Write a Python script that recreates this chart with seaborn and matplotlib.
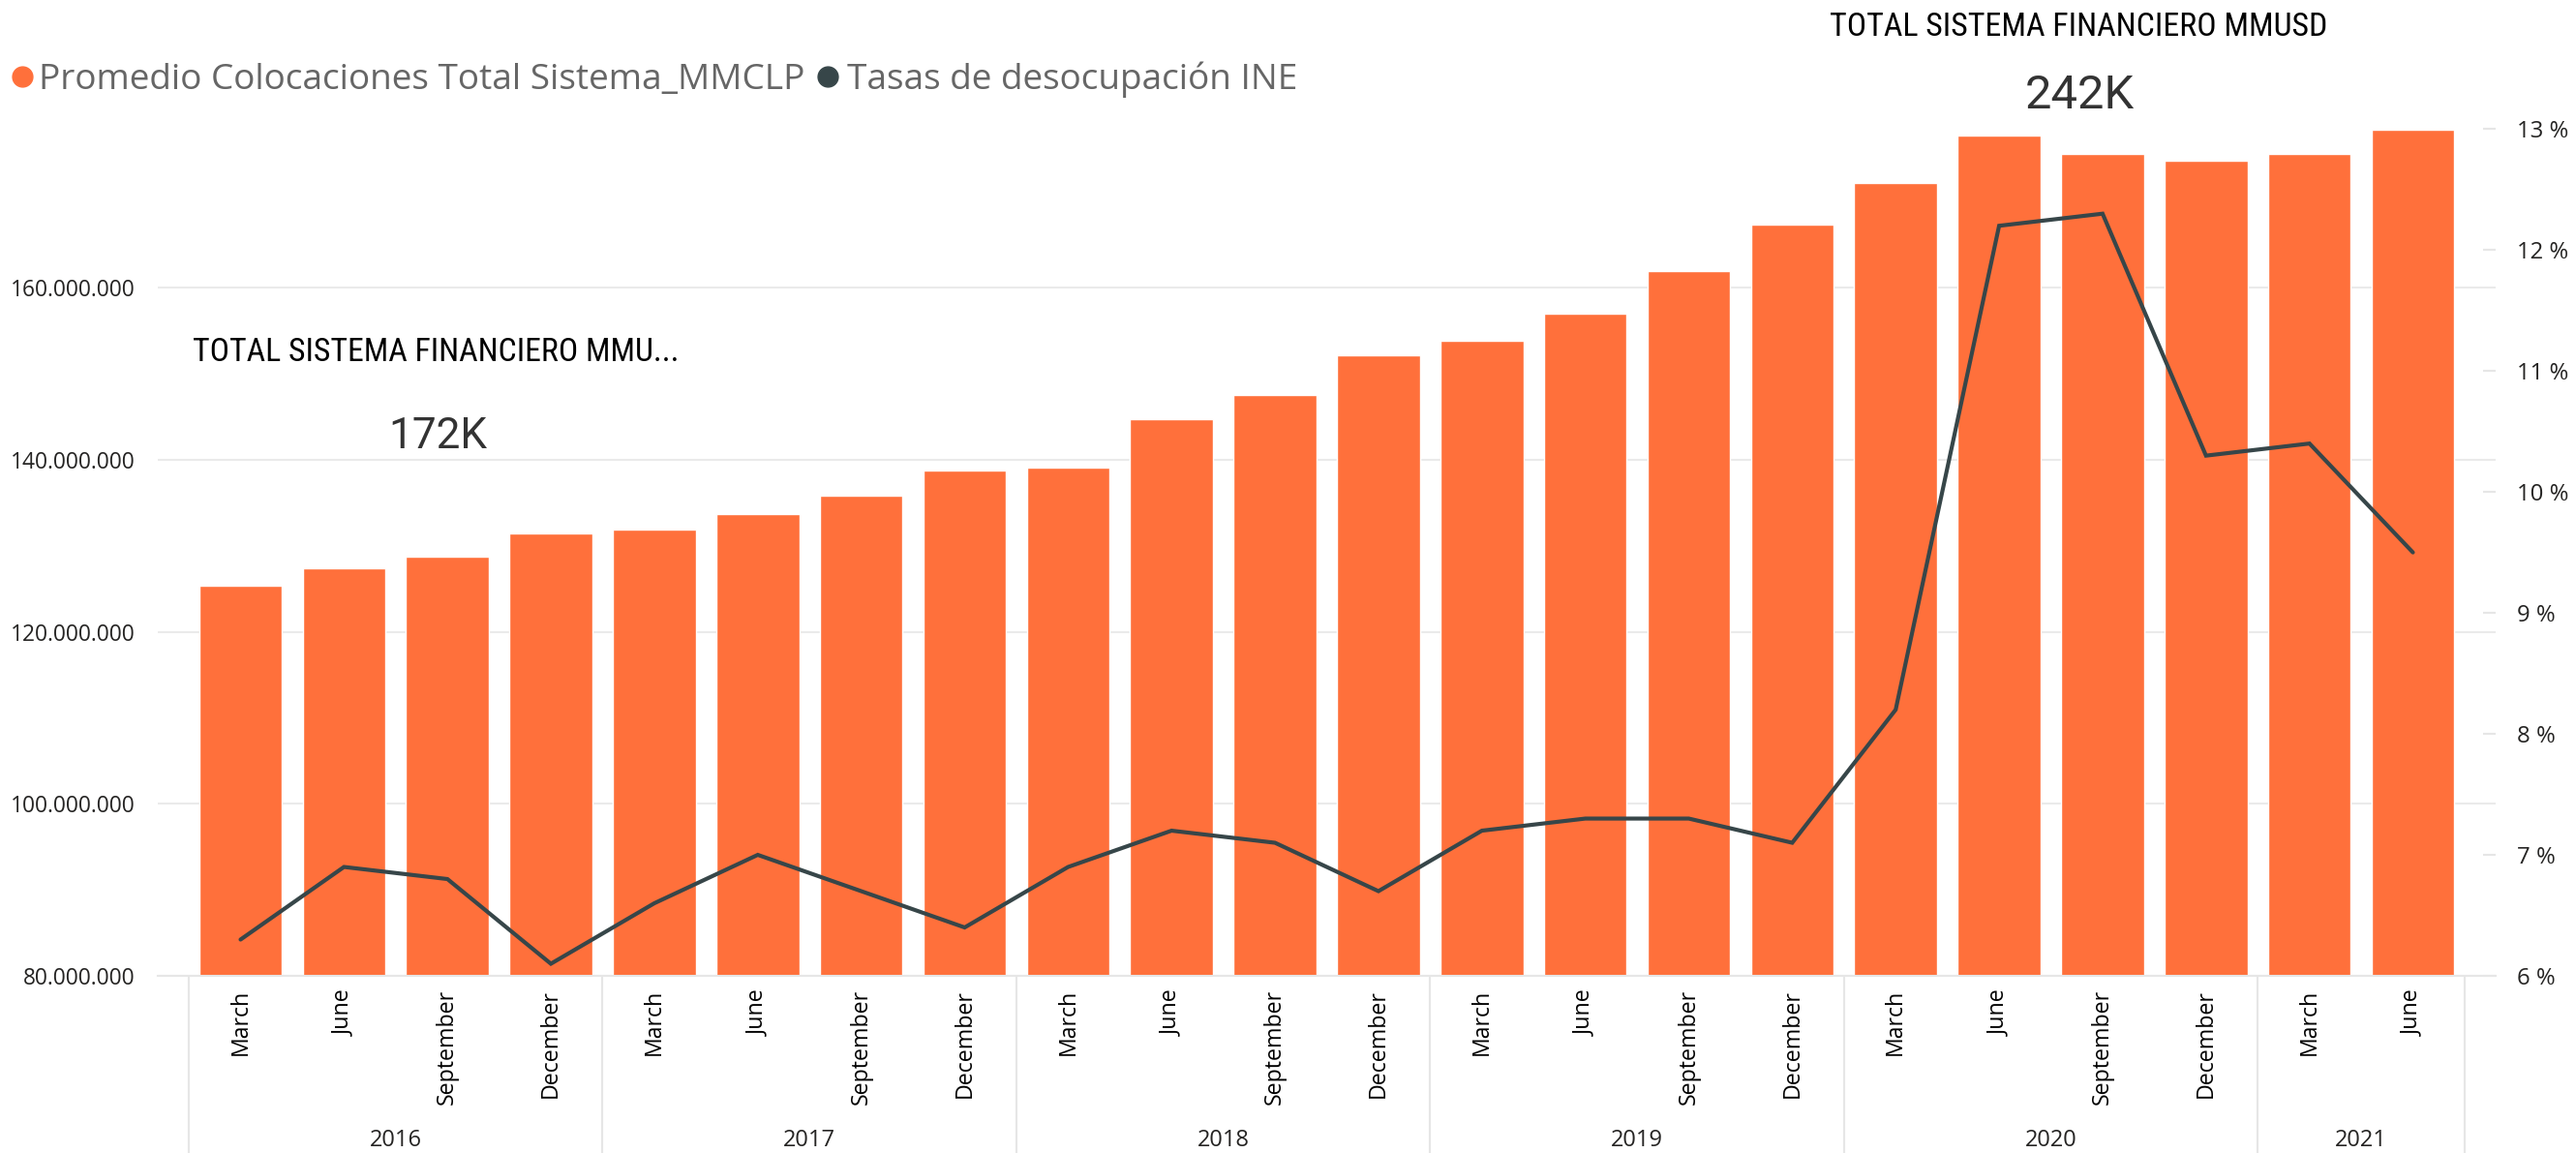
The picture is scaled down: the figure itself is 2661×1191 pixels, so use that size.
import matplotlib
matplotlib.use("Agg")
import matplotlib.pyplot as plt
import seaborn as sns
import numpy as np
import pandas as pd
from matplotlib import font_manager
from matplotlib.lines import Line2D
from matplotlib.transforms import blended_transform_factory

# ---------------- data ----------------
years = ["2016"] * 4 + ["2017"] * 4 + ["2018"] * 4 + ["2019"] * 4 + ["2020"] * 4 + ["2021"] * 2
months = ["March", "June", "September", "December"] * 5 + ["March", "June"]
colocaciones = [125.4e6, 127.4e6, 128.7e6, 131.4e6,
                131.9e6, 133.7e6, 135.8e6, 138.7e6,
                139.1e6, 144.7e6, 147.5e6, 152.2e6,
                153.8e6, 157.0e6, 161.9e6, 167.3e6,
                172.2e6, 177.7e6, 175.6e6, 174.8e6,
                175.5e6, 178.4e6]
desocupacion = [6.3, 6.9, 6.8, 6.1,
                6.6, 7.0, 6.7, 6.4,
                6.9, 7.2, 7.1, 6.7,
                7.2, 7.3, 7.3, 7.1,
                8.2, 12.2, 12.3, 10.3,
                10.4, 9.5]
year_labels = ["2016", "2017", "2018", "2019", "2020", "2021"]
left_ticks = [80e6, 100e6, 120e6, 140e6, 160e6]
right_ticks = [6, 7, 8, 9, 10, 11, 12, 13]
series_names = ["Promedio Colocaciones Total Sistema_MMCLP", "Tasas de desocupación INE"]
card_left = ("TOTAL SISTEMA FINANCIERO MMU...", "172K")
card_right = ("TOTAL SISTEMA FINANCIERO MMUSD", "242K")

BAR_COLOR = "#FF703B"
LINE_COLOR = "#374649"
GRID_COLOR = "#EAEAEA"
SEP_COLOR = "#E6E6E6"
TEXT_DARK = "#252423"

# ---------------- style ----------------
sns.set_theme(style="white")
names = {f.name for f in font_manager.fontManager.ttflist}
base_font = ["Open Sans", "DejaVu Sans"]
card_font = None
for cand in ["Roboto Condensed", "Liberation Sans Narrow", "Roboto"]:
    if cand in names:
        card_font = cand
        break
if card_font is None:
    card_font = "DejaVu Sans"
plt.rcParams["font.family"] = base_font

W, H = 2661, 1191
fig = plt.figure(figsize=(W / 100, H / 100), dpi=100)
fig.patch.set_facecolor("white")
renderer = fig.canvas.get_renderer()


def size_for(text, target_w, family=None, base=20):
    kw = {} if family is None else {"family": family}
    t = fig.text(0, 0, text, fontsize=base, **kw)
    w = t.get_window_extent(renderer=renderer).width
    t.remove()
    return base * target_w / w


def fit(t, target_w):
    bb = t.get_window_extent(renderer=renderer)
    t.set_fontsize(t.get_fontsize() * target_w / bb.width)


left_fs = size_for("160.000.000", 129)
right_fs = size_for("13 %", 53)
month_fs = size_for("September", 119)
year_fs = size_for("2016", 54)

ax_l, ax_r, ax_t, ax_b = 163, 2578, 119.5, 1008
ax = fig.add_axes([ax_l / W, 1 - ax_b / H, (ax_r - ax_l) / W, (ax_b - ax_t) / H])

df = pd.DataFrame({
    "period": [f"{m} {y}" for m, y in zip(months, years)],
    "colocaciones": colocaciones,
    "desocupacion": desocupacion,
})
df["pos"] = np.arange(len(df))

sns.barplot(data=df, x="period", y="colocaciones", color=BAR_COLOR,
            saturation=1, width=0.80, ax=ax, zorder=2)
ax.set_axisbelow(True)

ax2 = ax.twinx()
sns.lineplot(data=df, x="pos", y="desocupacion", color=LINE_COLOR,
             linewidth=3.0, ax=ax2, legend=False, zorder=3)
for ln in ax2.lines:
    ln.set_solid_joinstyle("miter")

ax.set_xlim(-0.80, 21.80)
ax.set_ylim(80e6, 180e6)
ax2.set_ylim(6, 13.11)

# left axis
ax.set_yticks(left_ticks)
ax.set_yticklabels([f"{v:,.0f}".replace(",", ".") for v in left_ticks])
ax.tick_params(axis="y", length=0, pad=17, labelsize=left_fs, labelcolor=TEXT_DARK)
ax.grid(axis="y", color=GRID_COLOR, linewidth=1.5)
ax.grid(axis="x", visible=False)

# x axis
ax.set_xticks(range(len(months)))
ax.set_xticklabels(months, rotation=90)
ax.tick_params(axis="x", length=0, pad=10, labelsize=month_fs, labelcolor="black")
ax.set_xlabel("")
ax.set_ylabel("")

# right axis
ax2.set_yticks(right_ticks)
ax2.set_yticklabels([f"{v} %" for v in right_ticks])
ax2.tick_params(axis="y", direction="in", length=9.5, width=1.5, color=SEP_COLOR,
                pad=16, labelsize=right_fs, labelcolor=TEXT_DARK)
ax2.set_ylabel("")
ax2.set_xlabel("")
ax2.grid(False)

for a in (ax, ax2):
    for s in a.spines.values():
        s.set_visible(False)
ax.spines["bottom"].set_visible(True)
ax.spines["bottom"].set_color(SEP_COLOR)
ax.spines["bottom"].set_linewidth(1.5)

# year separators and labels
tr = blended_transform_factory(ax.transData, fig.transFigure)
y_axis_fig = 1 - ax_b / H
bounds = [-0.5]
pos = 0
centers = []
for yl in year_labels:
    n = years.count(yl)
    centers.append(pos + (n - 1) / 2)
    pos += n
    bounds.append(pos - 0.5)
for b in bounds:
    ax.plot([b, b], [y_axis_fig, 0], transform=tr, color=SEP_COLOR,
            linewidth=1.5, clip_on=False, zorder=1)
for c, yl in zip(centers, year_labels):
    ax.text(c, 1 - 1184 / H, yl, transform=tr, ha="center", va="baseline",
            fontsize=year_fs, color=TEXT_DARK)

# cards
t1 = fig.text(2147 / W, 1 - 37 / H, card_right[0], ha="center", va="baseline",
              fontsize=22, family=[card_font, "DejaVu Sans"], color="black")
fit(t1, 513)
t2 = fig.text(2148 / W, 1 - 112 / H, card_right[1], ha="center", va="baseline",
              fontsize=35, family=["Roboto", "DejaVu Sans"], color="#333333")
fit(t2, 113)
t3 = fig.text(450 / W, 1 - 373 / H, card_left[0], ha="center", va="baseline",
              fontsize=22, family=[card_font, "DejaVu Sans"], color="black")
fit(t3, 501)
t4 = fig.text(452 / W, 1 - 463 / H, card_left[1], ha="center", va="baseline",
              fontsize=35, family=["Roboto", "DejaVu Sans"], color="#333333")
fit(t4, 102)

# legend (manual, Power BI style)
leg_y = 1 - 92 / H
dot_y = 1 - 79 / H
fig.add_artist(Line2D([22.5 / W], [dot_y], marker="o", markersize=15,
                      color=BAR_COLOR, linestyle="none", transform=fig.transFigure))
lt1 = fig.text(40 / W, leg_y, series_names[0], ha="left", va="baseline",
               fontsize=26, color="#666666")
fit(lt1, 795)
bb1 = lt1.get_window_extent(renderer=renderer)
x_end = bb1.x1
fig.add_artist(Line2D([(x_end + 24) / W], [dot_y], marker="o", markersize=15,
                      color=LINE_COLOR, linestyle="none", transform=fig.transFigure))
lt2 = fig.text((x_end + 44) / W, leg_y, series_names[1], ha="left", va="baseline",
               fontsize=lt1.get_fontsize(), color="#666666")

fig.savefig("out.png", dpi=100, facecolor="white")
